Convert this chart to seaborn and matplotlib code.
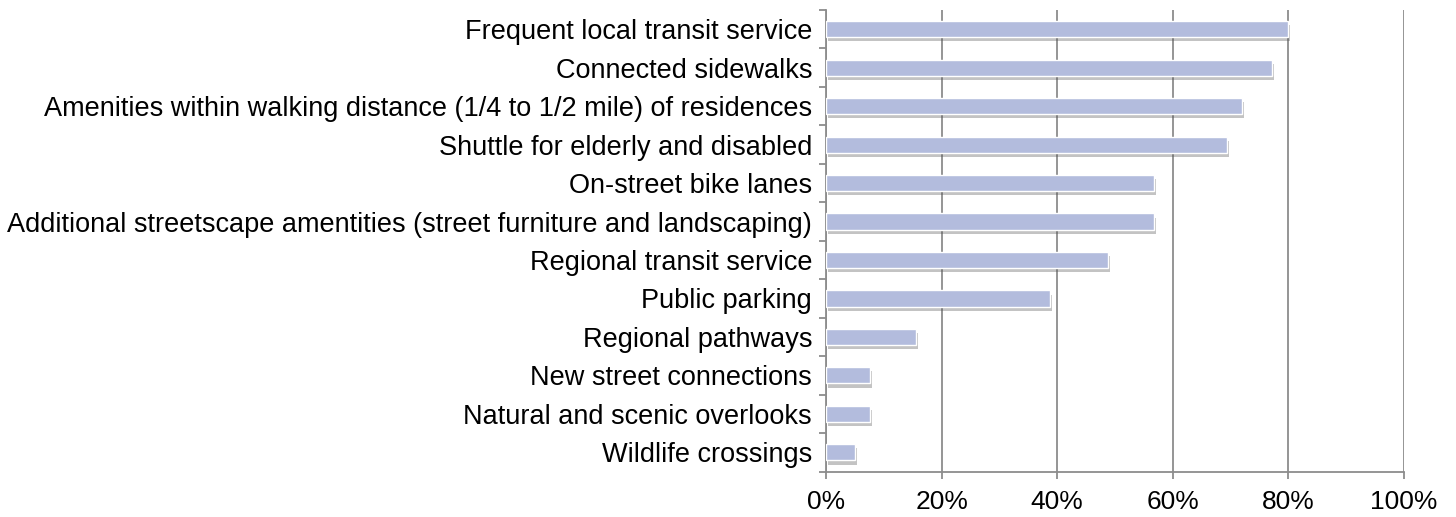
import matplotlib
matplotlib.use("Agg")
import matplotlib.pyplot as plt
import matplotlib.patheffects as pe
from matplotlib.ticker import FixedLocator, PercentFormatter
import seaborn as sns
import numpy as np

# Data
categories = [
    "Frequent local transit service",
    "Connected sidewalks",
    "Amenities within walking distance (1/4 to 1/2 mile) of residences",
    "Shuttle for elderly and disabled",
    "On-street bike lanes",
    "Additional streetscape amentities (street furniture and landscaping)",
    "Regional transit service",
    "Public parking",
    "Regional pathways",
    "New street connections",
    "Natural and scenic overlooks",
    "Wildlife crossings",
]
share = [80.0, 77.1, 71.9, 69.4, 56.7, 56.7, 48.8, 38.7, 15.5, 7.6, 7.6, 5.0]
x_ticks = [0, 20, 40, 60, 80, 100]

sns.set_style("white")
plt.rcParams["font.family"] = ["Liberation Sans", "DejaVu Sans"]

fig = plt.figure(figsize=(14.56, 5.17), dpi=100)
ax = fig.add_axes([0.5673, 0.088, 0.3970, 0.8927])

bar_color = "#b3bcdd"
sns.barplot(x=share, y=categories, orient="h", color=bar_color, saturation=1,
            width=0.42, ax=ax, zorder=3)

# soft drop shadow like the original
for p in ax.patches:
    p.set_path_effects([pe.SimplePatchShadow(offset=(1.5, -3), shadow_rgbFace="#555555", alpha=0.35),
                        pe.Normal()])

ax.set_xlim(0, 100)
ax.set_ylim(len(categories) - 0.5, -0.5)
ax.xaxis.set_major_locator(FixedLocator(x_ticks))
ax.xaxis.set_major_formatter(PercentFormatter(decimals=0))
ax.set_xlabel("")
ax.set_ylabel("")

grid_col = "#8c8c8c"
ax.grid(axis="x", color=grid_col, linewidth=1.3, zorder=0)
ax.set_axisbelow(True)
for s in ["top", "right"]:
    ax.spines[s].set_visible(False)
for s in ["left", "bottom"]:
    ax.spines[s].set_color(grid_col)
    ax.spines[s].set_linewidth(1.3)

# category separators as tick marks on the y axis
ax.yaxis.set_minor_locator(FixedLocator(np.arange(-0.5, len(categories), 1.0)))
ax.tick_params(axis="y", which="major", length=0, pad=10, labelsize=19.5, labelcolor="black")
ax.tick_params(axis="y", which="minor", left=True, length=5, width=1.3, color=grid_col)
ax.tick_params(axis="x", which="major", bottom=True, length=5, width=1.3, color=grid_col,
               pad=8, labelsize=19, labelcolor="black")

fig.savefig("out.png", dpi=100)
